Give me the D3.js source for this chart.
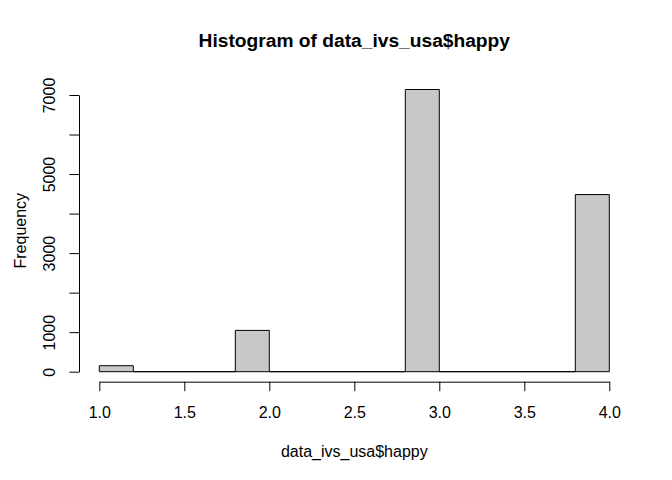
<!DOCTYPE html>
<html>
<head>
<meta charset="utf-8">
<script src="https://cdn.jsdelivr.net/npm/d3@7"></script>
<style>
  body { margin: 0; background: #fff; }
  text { font-family: "Liberation Sans", Arial, Helvetica, sans-serif; fill: #000; }
</style>
</head>
<body>
<svg class="viz"></svg>
<script>
var width = 672,
  height = 480;

// histogram bins of data_ivs_usa$happy (width 0.2)
var bin_starts = [1.0, 1.2, 1.4, 1.6, 1.8, 2.0, 2.2, 2.4, 2.6, 2.8, 3.0, 3.2, 3.4, 3.6, 3.8];
var bin_ends = [1.2, 1.4, 1.6, 1.8, 2.0, 2.2, 2.4, 2.6, 2.8, 3.0, 3.2, 3.4, 3.6, 3.8, 4.0];
var counts = [152, 0, 0, 0, 1045, 0, 0, 0, 0, 7139, 0, 0, 0, 0, 4481];

var x_ticks = [1.0, 1.5, 2.0, 2.5, 3.0, 3.5, 4.0];
var y_ticks = [0, 1000, 2000, 3000, 4000, 5000, 6000, 7000];
var y_labels = [0, 1000, 3000, 5000, 7000];

var title = "Histogram of data_ivs_usa$happy",
  x_title = "data_ivs_usa$happy",
  y_title = "Frequency";

var viz = d3.select(".viz")
  .attr("width", width)
  .attr("height", height);

var x = d3.scaleLinear().domain([1, 4]).range([99.3, 609.3]);
var y = d3.scaleLinear().domain([0, 7000]).range([371.7, 95]);

// bars (paths so that empty bins still show as a line on the baseline)
viz.append("g")
  .selectAll("path")
  .data(counts)
  .enter()
  .append("path")
  .attr("d", function(d, i) {
    var x0 = x(bin_starts[i]), x1 = x(bin_ends[i]);
    return "M" + x0 + "," + y(0) + "V" + y(d) + "H" + x1 + "V" + y(0) + "Z";
  })
  .attr("fill", "#c8c8c8")
  .attr("stroke", "#000")
  .attr("stroke-width", 1);

// x axis
var x_axis = viz.append("g")
  .attr("transform", "translate(0,381.7)")
  .call(d3.axisBottom(x)
    .tickValues(x_ticks)
    .tickFormat(d3.format(".1f"))
    .tickSize(9.5)
    .tickSizeOuter(0));
x_axis.selectAll("text")
  .attr("y", 36)
  .attr("dy", 0)
  .style("font-size", "16px");

// y axis
var y_axis = viz.append("g")
  .attr("transform", "translate(79,0)")
  .call(d3.axisLeft(y)
    .tickValues(y_ticks)
    .tickFormat(function(d) { return y_labels.indexOf(d) >= 0 ? d : ""; })
    .tickSize(9.5)
    .tickSizeOuter(0));
y_axis.selectAll("text")
  .attr("x", null)
  .attr("dy", 0)
  .attr("transform", "translate(-24,0) rotate(-90)")
  .attr("text-anchor", "middle")
  .style("font-size", "16px");

viz.selectAll(".domain, .tick line")
  .attr("stroke", "#000")
  .attr("stroke-width", 1);

// titles
viz.append("text")
  .attr("x", 354.3)
  .attr("y", 47)
  .attr("text-anchor", "middle")
  .style("font-size", "19.2px")
  .style("font-weight", "bold")
  .text(title);

viz.append("text")
  .attr("x", 354.3)
  .attr("y", 457)
  .attr("text-anchor", "middle")
  .style("font-size", "16px")
  .text(x_title);

viz.append("text")
  .attr("transform", "translate(26,230.7) rotate(-90)")
  .attr("text-anchor", "middle")
  .style("font-size", "16px")
  .text(y_title);
</script>
</body>
</html>
